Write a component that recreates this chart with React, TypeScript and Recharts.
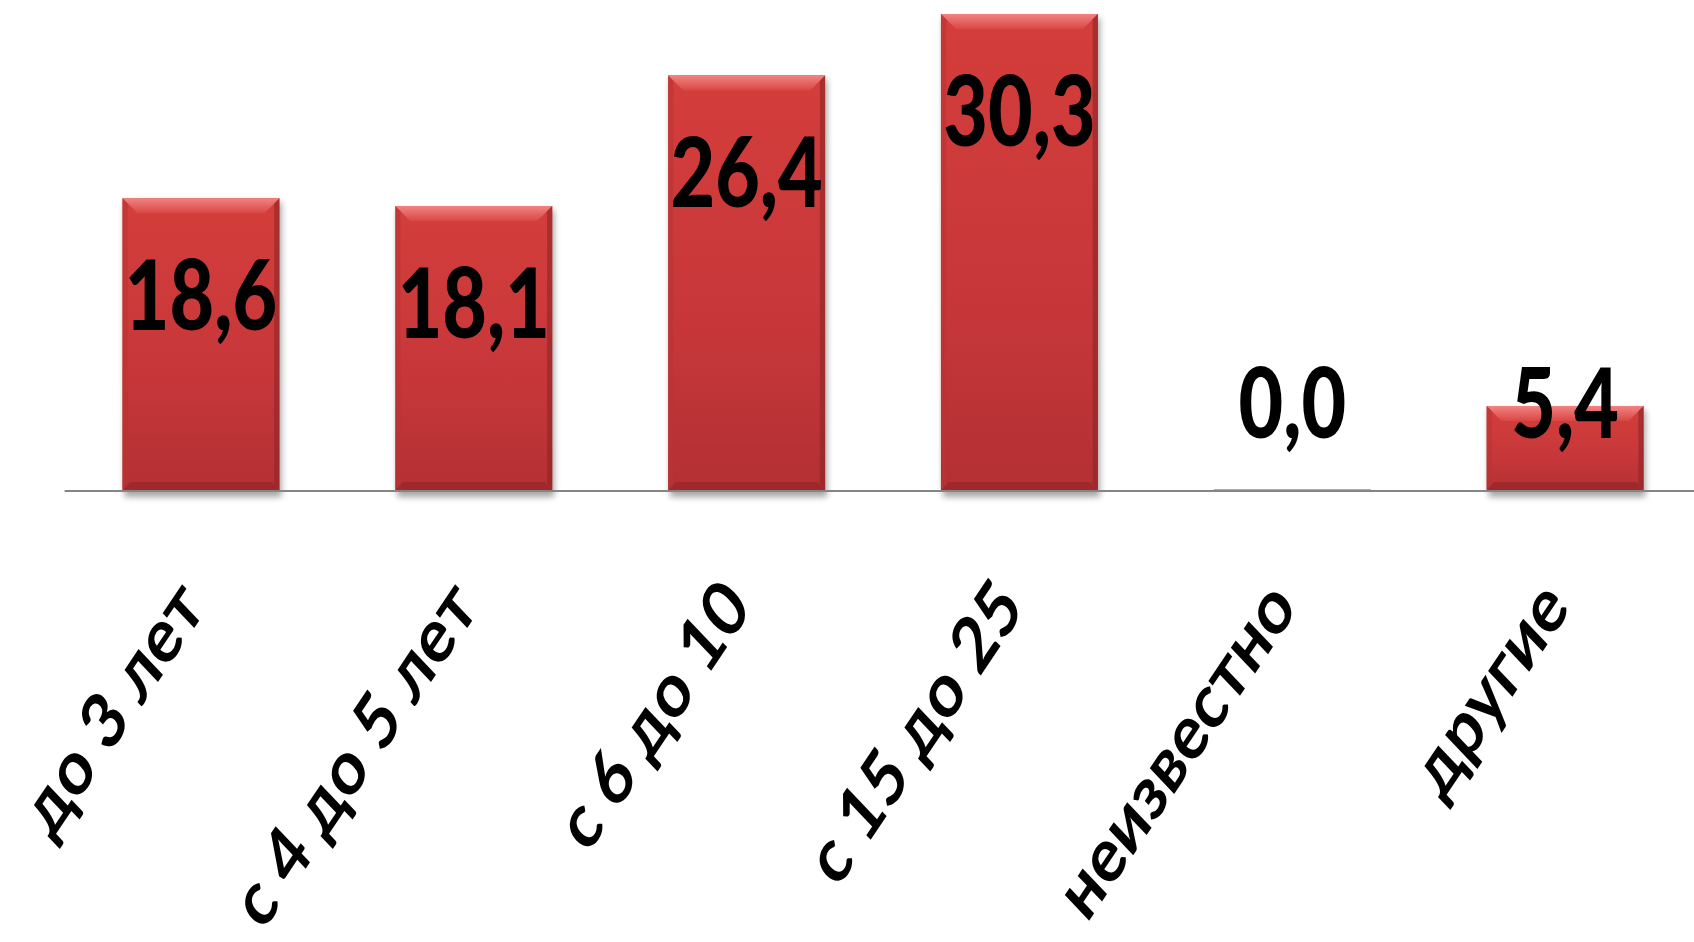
import React from 'react';
import { BarChart, Bar, XAxis, YAxis, LabelList } from 'recharts';

const categories = ['до 3 лет', 'с 4 до 5 лет', 'с 6 до 10', 'с 15 до 25', 'неизвестно', 'другие'];
const values = [18.6, 18.1, 26.4, 30.3, 0.0, 5.4];
const valueLabels = ['18,6', '18,1', '26,4', '30,3', '0,0', '5,4'];

const data = categories.map((c, i) => ({ name: c, value: values[i], label: valueLabels[i] }));

const FONT = "Lato, 'Open Sans', sans-serif";
const VALUE_STRETCH = 1.25;
const TICK_STRETCH = 1.25;
const TICK_ANGLE = -50;

const BevelBar = (props: any) => {
  const { x, y, width, height, index } = props;
  if (!(height > 0.5)) {
    return <rect x={x} y={y - 2} width={width} height={2} fill="#c7a2a2" />;
  }
  const b = Math.min(15, height / 2, width / 2);
  const g = `bg${index}`;
  const t = `bt${index}`;
  const f = `bf${index}`;
  return (
    <g>
      <defs>
        <linearGradient id={g} x1="0" y1="0" x2="0" y2="1">
          <stop offset="0%" stopColor="#d43e3b" />
          <stop offset="60%" stopColor="#c7373a" />
          <stop offset="100%" stopColor="#b33033" />
        </linearGradient>
        <linearGradient id={t} x1="0" y1="0" x2="0" y2="1">
          <stop offset="0%" stopColor="#f08482" />
          <stop offset="100%" stopColor="#d94744" />
        </linearGradient>
        <filter id={f} x="-20%" y="-20%" width="140%" height="140%">
          <feGaussianBlur stdDeviation="3" />
        </filter>
      </defs>
      <rect x={x + 2} y={y + 4} width={width} height={height + 2} fill="#000" opacity={0.35} filter={`url(#${f})`} />
      <rect x={x} y={y} width={width} height={height} fill={`url(#${g})`} />
      <polygon
        points={`${x},${y} ${x + width},${y} ${x + width - b},${y + b} ${x + b},${y + b}`}
        fill={`url(#${t})`}
      />
      <polygon
        points={`${x},${y} ${x + b * 0.35},${y + b * 0.35} ${x + b * 0.35},${y + height - b * 0.5} ${x},${y + height}`}
        fill="#b93333"
        opacity={0.6}
      />
      <polygon
        points={`${x + width},${y} ${x + width - b * 0.35},${y + b * 0.35} ${x + width - b * 0.35},${y + height - b * 0.5} ${x + width},${y + height}`}
        fill="#8e2426"
        opacity={0.6}
      />
      <polygon
        points={`${x},${y + height} ${x + width},${y + height} ${x + width - b * 0.5},${y + height - b * 0.6} ${x + b * 0.5},${y + height - b * 0.6}`}
        fill="#9a2729"
        opacity={0.8}
      />
    </g>
  );
};

const ValueLabel = (props: any) => {
  const { x, y, width, height, value } = props;
  const cx = x + width / 2;
  const baseline = Math.min(y + 132, y + height - 53);
  return (
    <g transform={`translate(${cx},${baseline}) scale(1,${VALUE_STRETCH})`}>
      <text x={0} y={0} textAnchor="middle" fontFamily={FONT} fontWeight={900} fontSize={77} fill="#000">
        {value}
      </text>
    </g>
  );
};

const CategoryTick = (props: any) => {
  const { x, y, payload } = props;
  return (
    <g transform={`translate(${x + 6},${y + 118}) scale(1,${TICK_STRETCH}) rotate(${TICK_ANGLE})`}>
      <text x={0} y={0} textAnchor="end" fontFamily={FONT} fontWeight={700} fontSize={62} fill="#000">
        {payload.value}
      </text>
    </g>
  );
};

export default function App() {
  return (
    <div style={{ position: 'fixed', left: 0, top: 0, width: 1694, height: 942, overflow: 'hidden', background: '#fff' }}>
      <BarChart
        width={1710}
        height={942}
        data={data}
        margin={{ top: 14, right: 8.4, bottom: 0, left: 64.6 }}
        barCategoryGap="21.2%"
      >
        <YAxis hide domain={[0, 30.3]} />
        <XAxis
          dataKey="name"
          height={451}
          interval={0}
          tickLine={false}
          tickSize={0}
          tickMargin={0}
          axisLine={{ stroke: '#858585', strokeWidth: 2 }}
          tick={<CategoryTick />}
        />
        <Bar dataKey="value" isAnimationActive={false} shape={<BevelBar />}>
          <LabelList dataKey="label" content={<ValueLabel />} />
        </Bar>
      </BarChart>
    </div>
  );
}
